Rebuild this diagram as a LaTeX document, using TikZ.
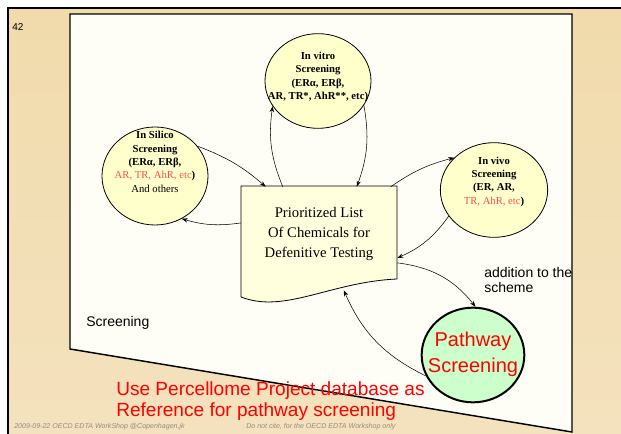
\documentclass[tikz,border=0pt]{standalone}
\usepackage{fontspec}
\setmainfont{Liberation Serif}
\setsansfont{Liberation Sans}
\usetikzlibrary{shapes.geometric,arrows.meta,calc}
\definecolor{tanA}{RGB}{241,219,172}
\definecolor{tanB}{RGB}{244,226,190}
\definecolor{paper}{RGB}{255,254,246}
\definecolor{cyel}{RGB}{255,255,204}
\definecolor{dyel}{RGB}{255,255,221}
\definecolor{cgreen}{RGB}{204,255,204}
\definecolor{pinkc}{RGB}{255,80,80}
\definecolor{footgray}{RGB}{150,140,125}
\begin{document}
\begin{tikzpicture}[x=0.75pt,y=-0.75pt,
  circ/.style={ellipse, draw, fill=cyel, line width=0.6pt, inner sep=0pt},
  ctext/.style={align=center, inner sep=0pt, font=\fontsize{8}{10}\selectfont},
  arr/.style={-{Stealth[length=4.5pt,width=3.2pt]}, line width=0.4pt},
  sanslab/.style={font=\sffamily\fontsize{10.5}{11.5}\selectfont, inner sep=0pt, align=left},
  redlab/.style={font=\sffamily\fontsize{14.3}{15.8}\selectfont, text=red, inner sep=0pt, align=left},
  foot/.style={font=\sffamily\itshape\fontsize{5.3}{6}\selectfont, text=footgray, inner sep=0pt, anchor=west}]
\useasboundingbox (0,0) rectangle (621,434);
\fill[white] (0,0) rectangle (621,434);
\shade[top color=tanA, bottom color=tanB] (8,8) rectangle (621,434);
\draw[line width=1.6pt] (8,434) -- (8,8) -- (621,8);
% paper
\draw[fill=paper, line width=1.1pt] (70,14) -- (572,14) -- (572,432) -- (70,349) -- cycle;
\node[anchor=west, font=\sffamily\fontsize{7.5}{9}\selectfont, inner sep=0pt] (num) at (12,27) {42};
% document shape
\draw[fill=dyel, line width=0.6pt] (241,186) -- (397,186) -- (397,279)
  .. controls (330,282) and (285,314) .. (241,297) -- cycle;
\node[minimum width=117pt, minimum height=69.75pt, inner sep=0pt, align=center,
  font=\fontsize{11}{15}\selectfont] (doc) at (319,233.5)
  {Prioritized List\\Of Chemicals for\\Defenitive Testing};
% circles
\node[circ, minimum width=79.5pt, minimum height=73.5pt] (silico) at (155,176) {};
\node[circ, minimum width=79.5pt, minimum height=71pt] (vitro) at (318,81) {};
\node[circ, minimum width=80.5pt, minimum height=71pt] (vivo) at (494,190) {};
\node[ellipse, draw, fill=cgreen, line width=1.5pt, inner sep=0pt,
  minimum width=77pt, minimum height=71pt] (path) at (473,355) {};
\node[ctext] (silicotxt) at (155,162) {\textbf{In Silico}\\\textbf{Screening}\\\textbf{(ERα, ERβ,}\\{\color{pinkc}AR, TR, AhR, etc}\textbf{)}\\And others};
\node[ctext] (vitrotxt) at (318,77) {\textbf{In vitro}\\\textbf{Screening}\\\textbf{(ERα, ERβ,}\\\textbf{AR, TR*, AhR**, etc)}};
\node[ctext] (vivotxt) at (494,181.5) {\textbf{In vivo}\\\textbf{Screening}\\\textbf{(ER, AR,}\\{\color{pinkc}TR, AhR, etc}\textbf{)}};
\node[font=\sffamily\fontsize{15}{19.5}\selectfont, text=red, align=center, inner sep=0pt] (pathtxt) at (473,354) {Pathway\\Screening};
% labels
\node[sanslab, anchor=north west] (addl) at (484,267) {addition to the\\scheme};
\node[sanslab, anchor=west] (scrl) at (86,323) {Screening};
\node[redlab, anchor=north west] (usel) at (116,381) {Use Percellome Project database as\\Reference for pathway screening};
\node[foot] (foot1) at (14,427) {2009-09-22 OECD EDTA WorkShop @Copenhagen,jk};
\node[foot] (foot2) at (246,427) {Do not cite, for the OECD EDTA Workshop only};
% arrows
\draw[arr] (silico.35) to[bend left=10] ([xshift=18.75pt]doc.north west);
\draw[arr] ([yshift=7.9pt]doc.west) to[bend left=12] (silico.-58);
\draw[arr] ([xshift=31.5pt]doc.north west) to[bend left=15] (vitro.209);
\draw[arr] (vitro.-28) to[bend left=15] ([xshift=87pt]doc.north west);
\draw[arr] ([xshift=112.5pt]doc.north west) to[bend left=10] (vivo.141);
\draw[arr] (vivo.210) to[bend left=15] ([yshift=-18.4pt]doc.east);
\draw[arr] ([yshift=-22pt]doc.east) to[bend left=22] (path.87);
\draw[arr] (path.204) to[bend left=20] ([xshift=77.25pt,yshift=-7.5pt]doc.south west);
\end{tikzpicture}
\end{document}
